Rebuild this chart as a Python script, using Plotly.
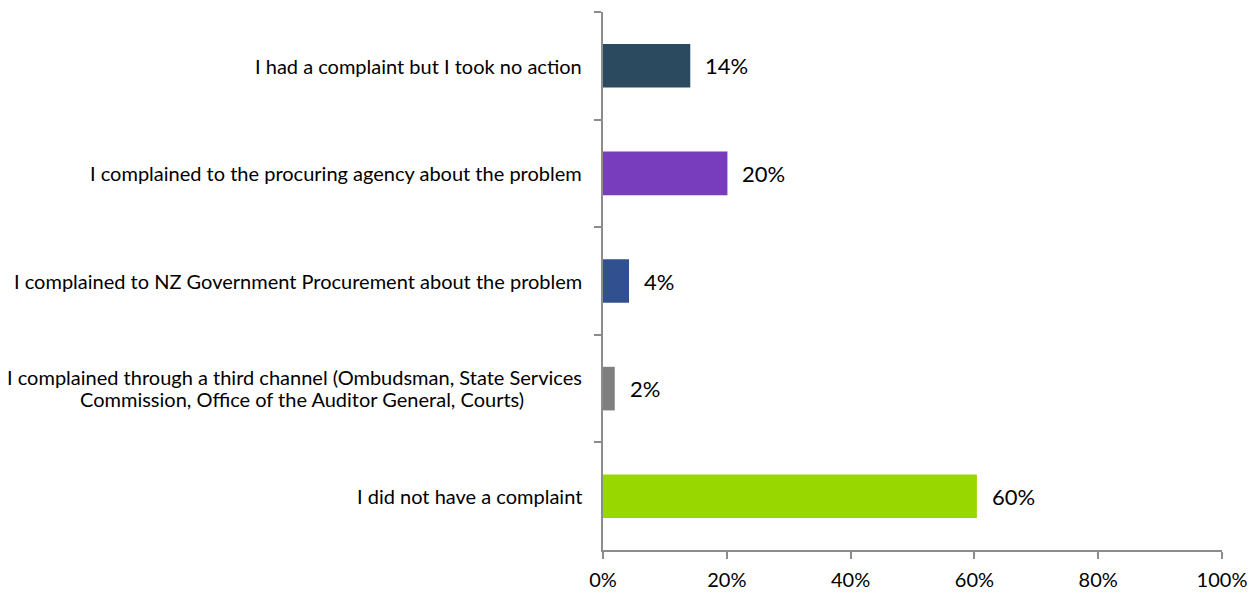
import plotly.graph_objects as go

# Survey responses about complaints, top to bottom
categories = [
    "I had a complaint but I took no action",
    "I complained to the procuring agency about the problem",
    "I complained to NZ Government Procurement about the problem",
    "I complained through a third channel (Ombudsman, State Services<br>Commission, Office of the Auditor General, Courts)",
    "I did not have a complaint",
]
shares = [14.1, 20.1, 4.2, 1.9, 60.4]
bar_colors = ["#2B4A5F", "#773DBD", "#30508F", "#7F7F7F", "#99D700"]
x_ticks = [0, 20, 40, 60, 80, 100]
x_tick_labels = ["0%", "20%", "40%", "60%", "80%", "100%"]

FONT = "Lato, Calibri, sans-serif"
AXIS_GREY = "#8C8C8C"
LABEL_FONT = dict(family=FONT, size=20, color="#000000")
LABEL_GAP = 19          # px between category label and the y axis
LINE_STEP = 22          # px between wrapped lines of a category label
WRAP_CENTRE = 282       # px from label edge to the centre of a wrapped label block

fig = go.Figure(
    go.Bar(
        x=shares,
        y=categories,
        orientation="h",
        marker=dict(color=bar_colors, line=dict(width=0)),
        hoverinfo="skip",
    )
)

# Category labels to the left of the axis; wrapped labels get centred lines
for cat in categories:
    lines = cat.split("<br>")
    n = len(lines)
    for i, line in enumerate(lines):
        yshift = ((n - 1) / 2 - i) * LINE_STEP + (1 if n > 1 else 0)
        if n == 1 or i == 0:
            anchor, xshift = "right", -LABEL_GAP
        else:
            anchor, xshift = "center", -LABEL_GAP - WRAP_CENTRE
        fig.add_annotation(
            x=0, xref="paper", y=cat, yref="y",
            text=line, showarrow=False,
            xanchor=anchor, xshift=xshift, yshift=yshift,
            font=LABEL_FONT,
        )

# Value labels just past the end of each bar
for cat, v in zip(categories, shares):
    fig.add_annotation(
        x=v, xref="x", y=cat, yref="y",
        text=f"{round(v)}%", showarrow=False,
        xanchor="left", xshift=13,
        font=dict(family=FONT, size=22, color="#000000"),
    )

fig.update_layout(
    width=1258,
    height=592,
    margin=dict(l=603, r=36, t=12, b=42, autoexpand=False),
    paper_bgcolor="white",
    plot_bgcolor="white",
    bargap=0.595,
    showlegend=False,
    font=dict(family=FONT, color="#000000"),
)

fig.update_xaxes(
    range=[0, 100],
    tickvals=x_ticks,
    ticktext=x_tick_labels,
    showgrid=False,
    zeroline=False,
    showline=True,
    linecolor=AXIS_GREY,
    linewidth=1.5,
    ticks="outside",
    ticklen=7,
    tickcolor=AXIS_GREY,
    tickwidth=1.5,
    ticklabelstandoff=4,
    tickfont=dict(family=FONT, size=20, color="#000000"),
    automargin=False,
    fixedrange=True,
)

fig.update_yaxes(
    autorange="reversed",
    showgrid=False,
    zeroline=False,
    showline=True,
    linecolor=AXIS_GREY,
    linewidth=1.5,
    ticks="outside",
    tickson="boundaries",
    ticklen=7,
    tickcolor=AXIS_GREY,
    tickwidth=1.5,
    showticklabels=False,
    automargin=False,
    fixedrange=True,
)

fig.write_html("out.html")
